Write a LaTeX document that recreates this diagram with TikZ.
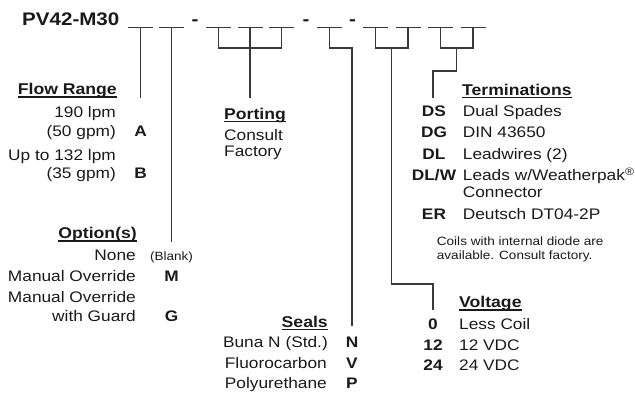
\documentclass[tikz,border=0pt]{standalone}
\usepackage{fontspec}
\setmainfont[FakeStretch=1.13]{Liberation Sans}
\usetikzlibrary{calc}
\definecolor{tc}{HTML}{1A1A1A}
\definecolor{lc}{HTML}{3A3A3A}
\newcommand{\hul}[1]{\setbox0\hbox{#1}\rlap{\rule[-2.8pt]{\wd0}{1.3pt}}\box0}
\begin{document}
\begin{tikzpicture}[x=1pt,y=-1pt,
  every node/.style={inner sep=0pt, text=tc},
  txt/.style={font=\fontsize{15.3}{18}\selectfont},
  hdr/.style={font=\fontsize{15.6}{18}\selectfont\bfseries},
  code/.style={font=\fontsize{15.3}{18}\selectfont\bfseries, anchor=base},
  small/.style={font=\fontsize{12}{14}\selectfont},
  ttl/.style={font=\fontsize{18.2}{20}\selectfont\bfseries},
  blank/.style={line width=1.3pt, draw=lc},
  conn/.style={line width=1.3pt, draw=lc},
]
\useasboundingbox (0,0) rectangle (635,398);
\fill[white] (0,0) rectangle (635,398);

% title and blanks
\node[ttl, anchor=base west] (title) at (22,26) {PV42-M30};
\foreach \x/\n in {128/1,159/2,206/3,237.5/4,269/5,317/6,363/7,395.5/8,428/9,460.5/10} {
  \draw[blank] (\x,27.5) -- ++(25,0) coordinate[pos=0.5] (b\n);
}
\node[ttl, anchor=base] (d1) at (195,26) {-};
\node[ttl, anchor=base] (d2) at (306,26) {-};
\node[ttl, anchor=base] (d3) at (352.5,26) {-};

% connectors
\coordinate (fA) at (140.5,98);
\draw[conn] (b1) -- (fA);
\coordinate (fO) at (171.5,242);
\draw[conn] (b2) -- (fO);
\draw[conn] (b3) -- ++(0,20.5) -| (b5);
\coordinate (fP) at (250,98);
\draw[conn] (b4) -- (fP);
\coordinate (fS) at (352,326);
\draw[conn] (b6) -- ++(0,20.5) -| (fS);
\draw[conn] (b7) -- ++(0,20.5) -| (b8);
\coordinate (vm) at ($(b7)!0.5!(b8)+(0,20.5)$);
\coordinate (vk) at (433,284);
\coordinate (fV) at (433,310);
\draw[conn] (vm) |- (vk) -- (fV);
\draw[conn] (b9) -- ++(0,20.5) -| (b10);
\coordinate (tm) at ($(b9)!0.5!(b10)+(0,20.5)$);
\coordinate (tk) at (433,71);
\coordinate (fT) at (433,98);
\draw[conn] (tm) |- (tk) -- (fT);

% Flow range
\node[hdr, anchor=base east] (flow) at (117,95) {\hul{Flow Range}};
\node[txt, anchor=base east] (f1) at (116,118) {190 lpm};
\node[txt, anchor=base east] (f2) at (116,137) {(50 gpm)};
\node[code] (cA) at (140.5,137) {A};
\node[txt, anchor=base east] (f3) at (116,161) {Up to 132 lpm};
\node[txt, anchor=base east] (f4) at (116,179) {(35 gpm)};
\node[code] (cB) at (140.5,179) {B};

% Porting
\node[hdr, anchor=base west] (port) at (224,119.3) {\hul{Porting}};
\node[txt, anchor=base west] (p1) at (224,140.5) {Consult};
\node[txt, anchor=base west] (p2) at (224,157) {Factory};

% Options
\node[hdr, anchor=base east] (opt) at (137,239) {\hul{Option(s)}};
\node[txt, anchor=base east] (o1) at (136,260.7) {None};
\node[small, anchor=base] (cBl) at (171.5,260.7) {(Blank)};
\node[txt, anchor=base east] (o2) at (136,281.7) {Manual Override};
\node[code] (cM) at (171.5,281.7) {M};
\node[txt, anchor=base east] (o3) at (136,302.7) {Manual Override};
\node[txt, anchor=base east] (o4) at (136,321) {with Guard};
\node[code] (cG) at (171.5,321) {G};

% Seals
\node[hdr, anchor=base east] (seal) at (328,327) {\hul{Seals}};
\node[txt, anchor=base east] (s1) at (328,348) {Buna N (Std.)};
\node[code] (cN) at (352,348) {N};
\node[txt, anchor=base east] (s2) at (327,368) {Fluorocarbon};
\node[code] (cV) at (352,368) {V};
\node[txt, anchor=base east] (s3) at (327,388.3) {Polyurethane};
\node[code] (cP) at (352,388.3) {P};

% Voltage
\node[hdr, anchor=base west] (volt) at (459,308) {\hul{Voltage}};
\node[code] (c0) at (433,330) {0};
\node[txt, anchor=base west] (v1) at (459,330) {Less Coil};
\node[code] (c12) at (433,350) {12};
\node[txt, anchor=base west] (v2) at (459,350) {12 VDC};
\node[code] (c24) at (433,370.7) {24};
\node[txt, anchor=base west] (v3) at (459,370.7) {24 VDC};

% Terminations
\node[hdr, anchor=base west] (term) at (462,95.7) {\hul{Terminations}};
\node[code] (cDS) at (434,116.7) {DS};
\node[txt, anchor=base west] (t1) at (462.7,116.7) {Dual Spades};
\node[code] (cDG) at (434,137.7) {DG};
\node[txt, anchor=base west] (t2) at (462.7,137.7) {DIN 43650};
\node[code] (cDL) at (434,159.3) {DL};
\node[txt, anchor=base west] (t3) at (462.7,159.3) {Leadwires (2)};
\node[code] (cDLW) at (434,180.7) {DL/W};
\node[txt, anchor=base west] (t4) at (462.7,180.7) {Leads w/Weatherpak\textsuperscript{\textregistered}};
\node[txt, anchor=base west] (t5) at (462.7,197.3) {Connector};
\node[code] (cER) at (434,219.3) {ER};
\node[txt, anchor=base west] (t6) at (462.7,219.3) {Deutsch DT04-2P};
\node[small, anchor=base west] (n1) at (436.7,245.7) {Coils with internal diode are};
\node[small, anchor=base west] (n2) at (436.7,260) {available. Consult factory.};
\end{tikzpicture}
\end{document}
